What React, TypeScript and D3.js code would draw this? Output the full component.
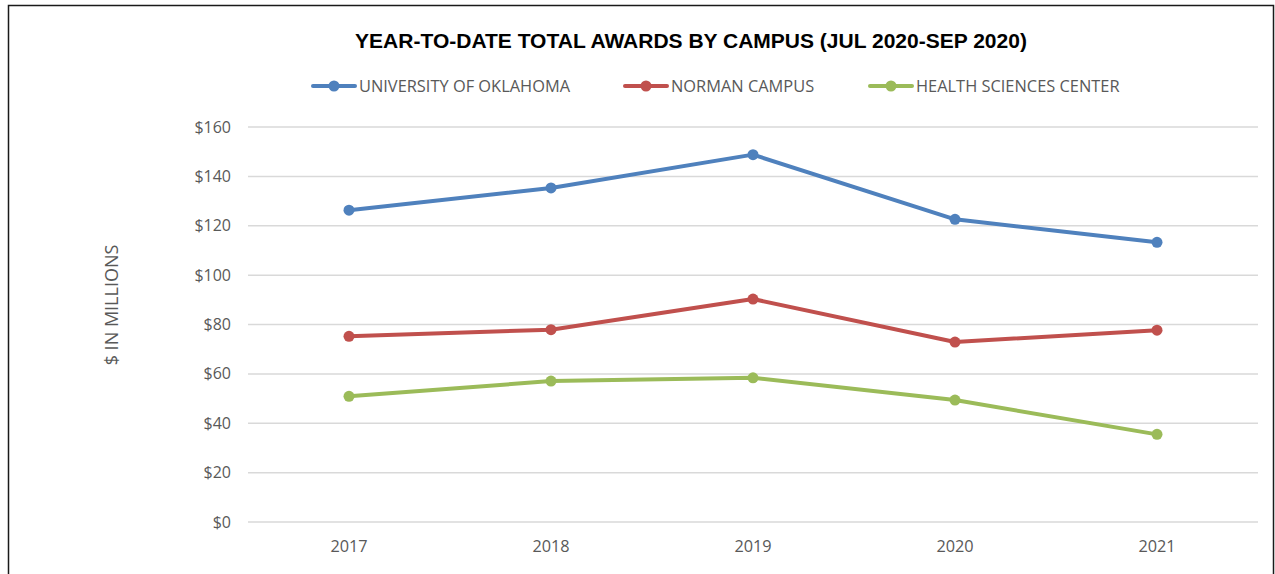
import { useRef, useEffect } from "react";
import * as d3 from "d3";

const years = ["2017", "2018", "2019", "2020", "2021"];
const universityOfOklahoma = [126.3, 135.3, 148.8, 122.6, 113.3];
const normanCampus = [75.2, 77.9, 90.3, 72.9, 77.7];
const healthSciencesCenter = [50.9, 57.1, 58.4, 49.4, 35.5];
const yTicks = [0, 20, 40, 60, 80, 100, 120, 140, 160];

const seriesNames = ["UNIVERSITY OF OKLAHOMA", "NORMAN CAMPUS", "HEALTH SCIENCES CENTER"];
const seriesColors = ["#4F81BD", "#C0504D", "#9BBB59"];

const W = 1275;
const H = 574;
const font = "'Open Sans', sans-serif";

export default function App() {
  const svgRef = useRef<SVGSVGElement>(null);

  useEffect(() => {
    const svg = d3.select(svgRef.current);
    svg.selectAll("*").remove();

    const series = [universityOfOklahoma, normanCampus, healthSciencesCenter];

    // outer frame
    svg
      .append("rect")
      .attr("x", 8.5)
      .attr("y", 5.5)
      .attr("width", 1265)
      .attr("height", 600)
      .attr("fill", "#fff")
      .attr("stroke", "#1a1a1a")
      .attr("stroke-width", 1.5);

    const x = d3.scaleBand().domain(years).range([248, 1258]);
    const y = d3.scaleLinear().domain([0, 160]).range([522, 127]);

    // gridlines
    svg
      .append("g")
      .selectAll("line")
      .data(yTicks)
      .join("line")
      .attr("x1", 248)
      .attr("x2", 1258)
      .attr("y1", (d) => y(d))
      .attr("y2", (d) => y(d))
      .attr("stroke", "#d9d9d9")
      .attr("stroke-width", 1.5);

    // y labels
    svg
      .append("g")
      .selectAll("text")
      .data(yTicks)
      .join("text")
      .attr("x", 231)
      .attr("y", (d) => y(d) + 5.5)
      .attr("text-anchor", "end")
      .attr("font-family", font)
      .attr("font-size", 16)
      .attr("fill", "#595959")
      .text((d) => "$" + d);

    // x labels
    svg
      .append("g")
      .selectAll("text")
      .data(years)
      .join("text")
      .attr("x", (d) => x(d)! + x.bandwidth() / 2)
      .attr("y", 552)
      .attr("text-anchor", "middle")
      .attr("font-family", font)
      .attr("font-size", 16.3)
      .attr("fill", "#595959")
      .text((d) => d);

    // y axis title
    svg
      .append("text")
      .attr("transform", "translate(118,305) rotate(-90)")
      .attr("text-anchor", "middle")
      .attr("font-family", font)
      .attr("font-size", 18)
      .attr("fill", "#595959")
      .text("$ IN MILLIONS");

    // title
    svg
      .append("text")
      .attr("x", 691)
      .attr("y", 48)
      .attr("text-anchor", "middle")
      .attr("font-family", "'Liberation Sans', Arial, sans-serif")
      .attr("font-weight", "bold")
      .attr("font-size", 21)
      .attr("fill", "#000")
      .text("YEAR-TO-DATE TOTAL AWARDS BY CAMPUS (JUL 2020-SEP 2020)");

    const myLine = d3
      .line<number>()
      .x((_, i) => x(years[i])! + x.bandwidth() / 2)
      .y((v) => y(v));

    series.forEach((data, s) => {
      const g = svg.append("g");
      g.append("path")
        .attr("d", myLine(data))
        .attr("fill", "none")
        .attr("stroke", seriesColors[s])
        .attr("stroke-width", 4)
        .attr("stroke-linejoin", "round");
      g.selectAll("circle")
        .data(data)
        .join("circle")
        .attr("cx", (_, i) => x(years[i])! + x.bandwidth() / 2)
        .attr("cy", (v) => y(v))
        .attr("r", 5.5)
        .attr("fill", seriesColors[s]);
    });

    // legend
    const legendX = [313, 625, 870];
    seriesNames.forEach((name, s) => {
      const g = svg.append("g").attr("transform", `translate(${legendX[s]},86)`);
      g.append("line")
        .attr("x1", 0)
        .attr("x2", 42)
        .attr("stroke", seriesColors[s])
        .attr("stroke-width", 4)
        .attr("stroke-linecap", "round");
      g.append("circle").attr("cx", 21).attr("r", 5.5).attr("fill", seriesColors[s]);
      g.append("text")
        .attr("x", 46)
        .attr("y", 6)
        .attr("font-family", font)
        .attr("font-size", 16.4)
        .attr("fill", "#595959")
        .text(name);
    });
  }, []);

  return (
    <svg
      ref={svgRef}
      width={W}
      height={H}
      style={{ position: "absolute", left: 0, top: 0, display: "block" }}
    />
  );
}
